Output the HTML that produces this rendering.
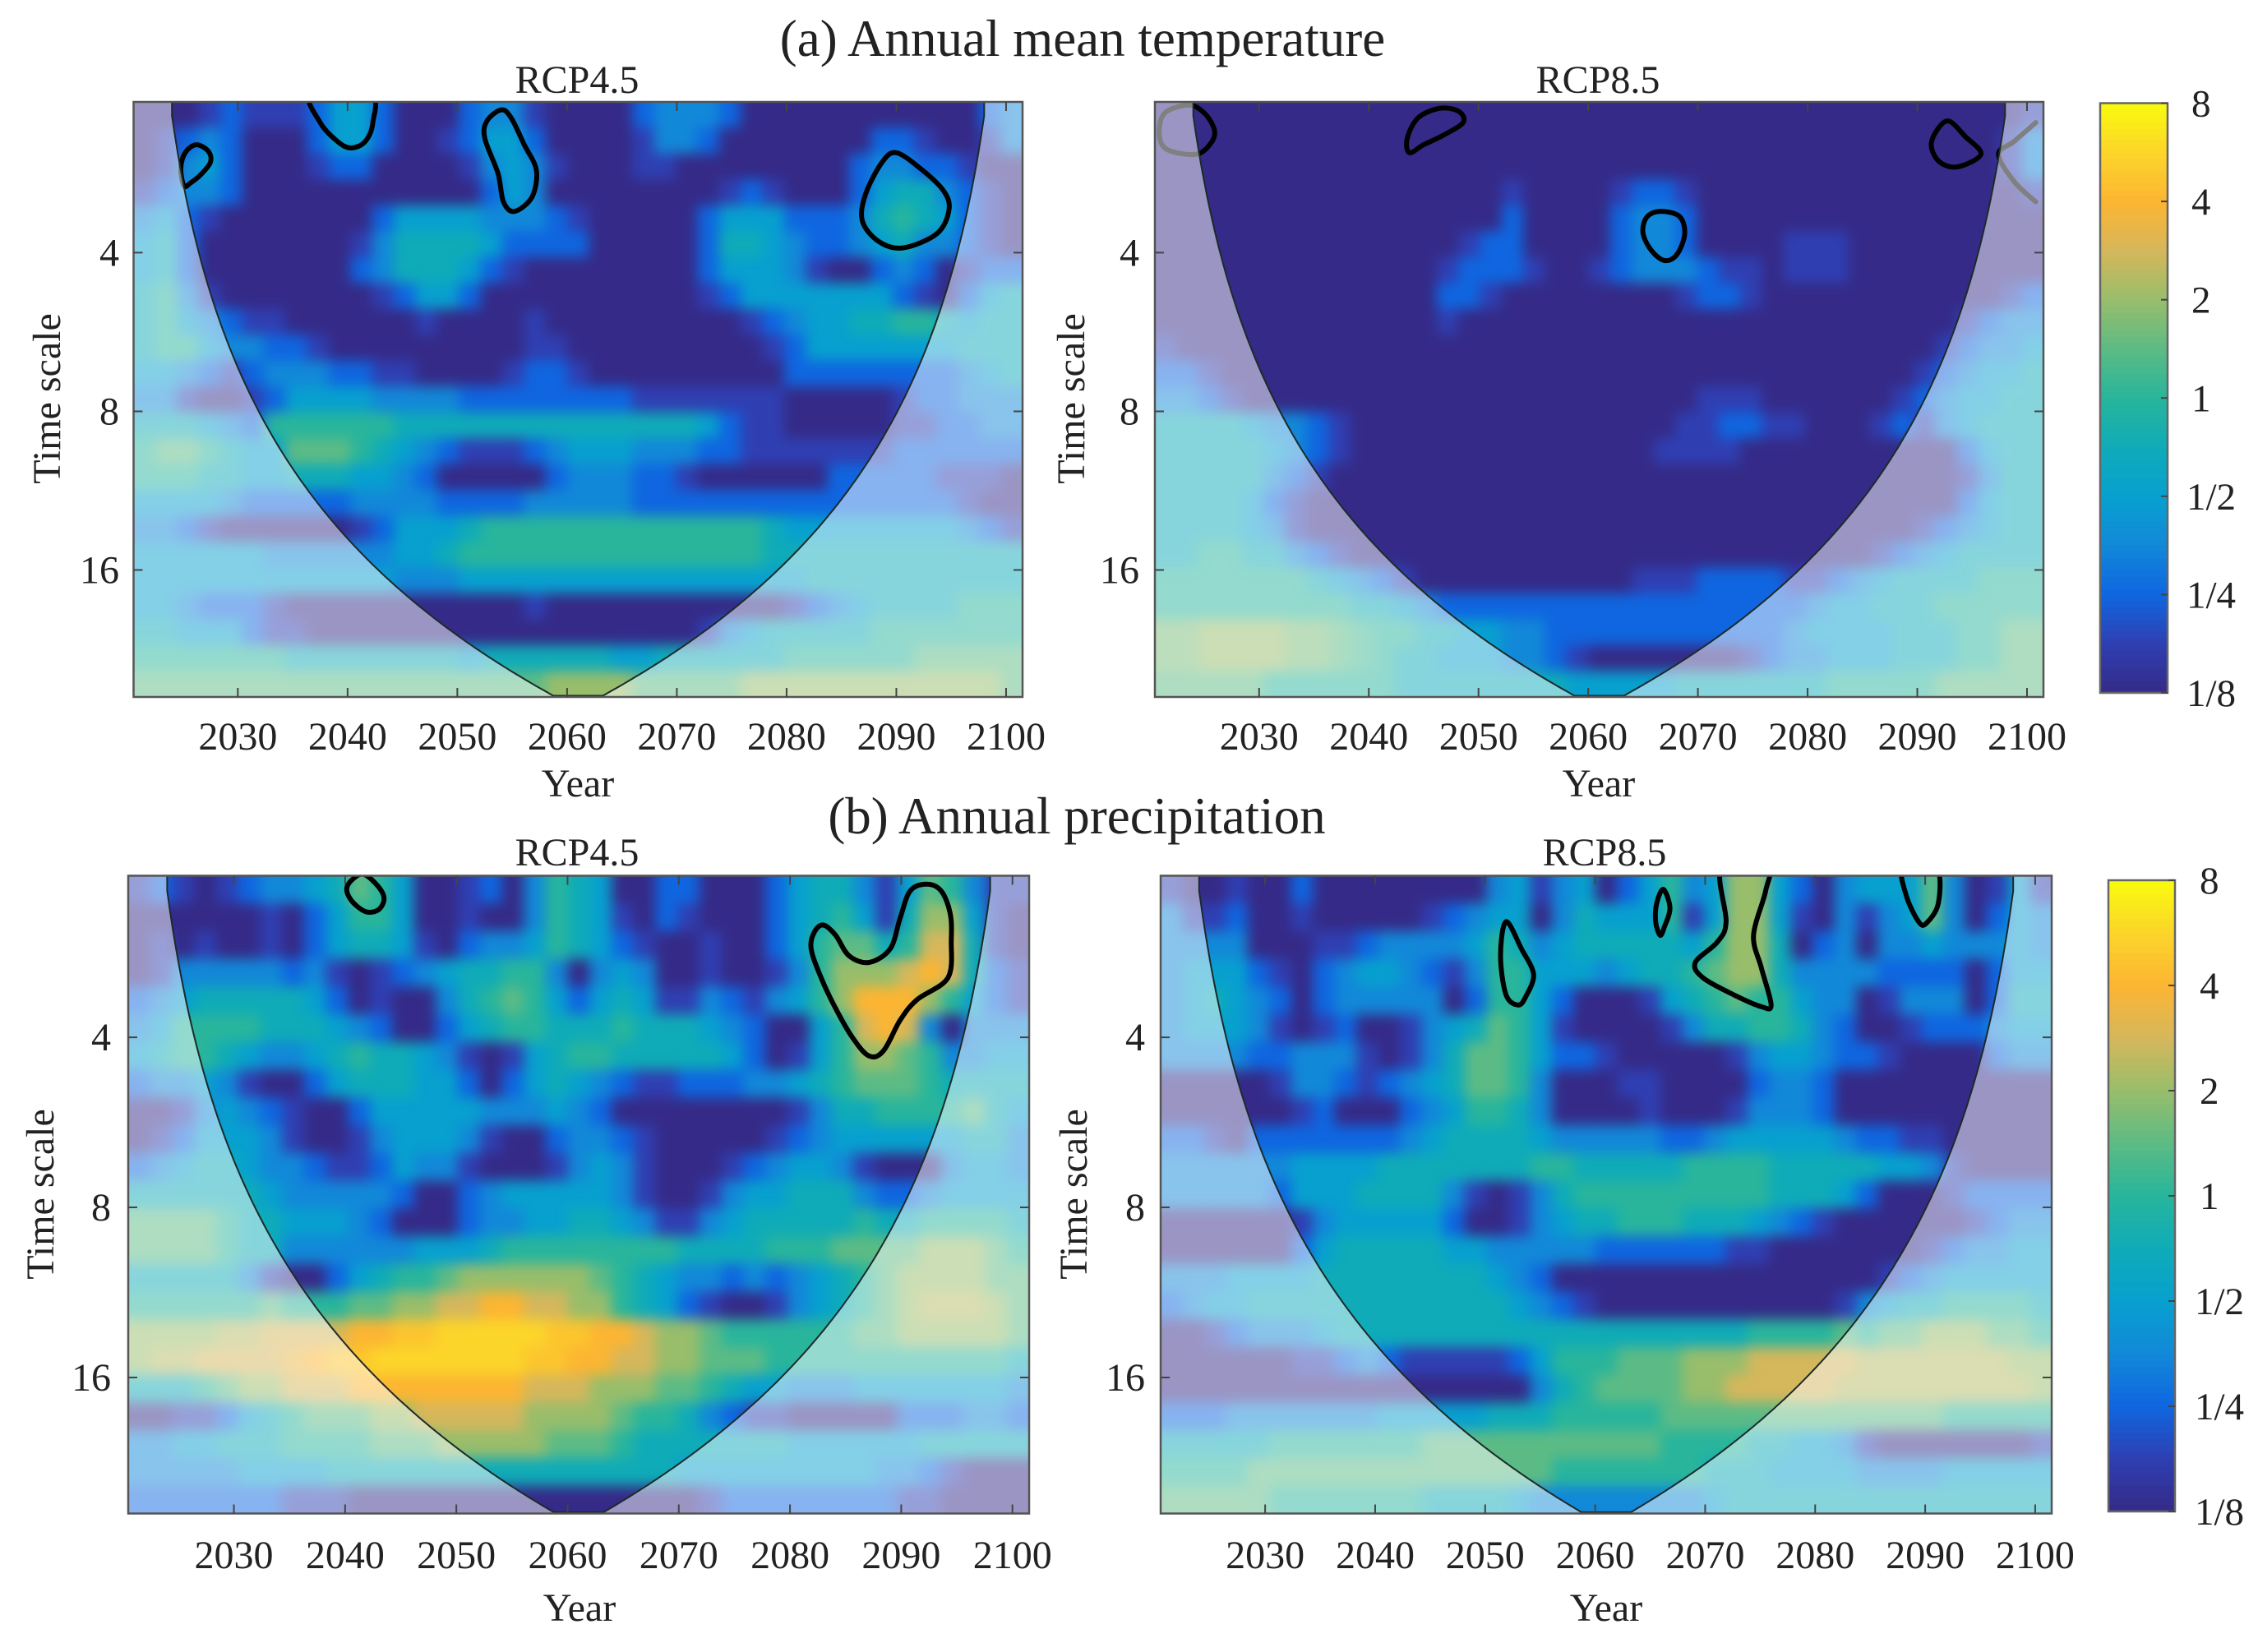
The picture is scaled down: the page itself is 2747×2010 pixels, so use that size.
<!DOCTYPE html>
<html lang="en">
<head>
<meta charset="utf-8">
<title>Wavelet power: annual mean temperature and annual precipitation</title>
<style>
html,body{margin:0;padding:0;background:#fff;}
svg{display:block;}
text{font-family:"Liberation Serif",serif;fill:#222;}
</style>
</head>
<body>
<svg id="chart" xmlns="http://www.w3.org/2000/svg" width="2747" height="2010" viewBox="0 0 2747 2010">
<defs>
<filter id="soften" x="-5%" y="-5%" width="110%" height="110%" color-interpolation-filters="sRGB"><feGaussianBlur stdDeviation="8"/></filter>
</defs>
<rect x="0" y="0" width="2747" height="2010" fill="#fff"/>
<text x="1317" y="68" font-size="63" text-anchor="middle">(a) Annual mean temperature</text>
<text x="1310" y="1014" font-size="63" text-anchor="middle">(b) Annual precipitation</text>
</svg>
<script>
// Wavelet power on half-octave levels: 0 = 1/8, 2 = 1/4, 4 = 1/2, 6 = 1, 8 = 2, 10 = 4, 12 = 8.
// Rows run from short to long time scale, columns from 2021 to 2101 in 41 bins.
const tempRcp45Levels = [
[0,0,0,1,2,1,1,1,2,4,4,2,0,0,0,2,3,3,1,0,0,0,0,2,3,3,3,2,0,0,0,0,0,0,0,0,0,0,0,2,3],
[0,1,2,3,2,0,0,0,2,4,4,2,0,0,1,2,4,4,2,0,0,0,0,1,3,3,2,0,0,0,0,0,0,0,2,2,1,0,0,1,3],
[0,1,3,4,2,0,0,0,1,2,2,0,0,0,0,1,3,4,3,1,0,0,0,1,1,0,0,0,0,0,0,0,0,2,3,3,2,2,1,0,0],
[1,2,3,3,2,0,0,0,0,0,0,0,0,0,0,0,2,4,3,0,0,0,0,0,0,0,0,1,2,1,0,0,0,2,4,5,5,3,2,1,0],
[3,4,2,1,0,0,0,0,0,0,0,2,4,4,4,4,3,3,3,2,1,0,0,0,0,0,2,4,4,4,2,2,2,3,5,6,5,4,2,1,0],
[4,5,2,0,0,0,0,0,0,0,1,3,5,5,5,5,4,2,2,2,2,0,0,0,0,0,2,5,5,4,3,2,2,3,4,5,3,3,2,1,0],
[4,5,2,0,0,0,0,0,0,0,2,3,5,5,5,4,2,1,0,0,0,0,0,0,0,0,2,4,4,4,3,1,0,0,2,3,2,0,1,2,2],
[5,6,3,1,0,0,0,0,0,0,0,1,2,4,4,2,0,0,0,0,0,0,0,0,0,0,1,2,4,4,4,4,4,4,4,2,1,0,2,4,5],
[5,6,4,3,2,1,1,0,0,0,0,0,0,1,0,0,0,0,1,0,0,0,0,0,0,0,0,0,1,2,3,4,4,5,5,6,6,5,4,5,5],
[5,6,6,4,3,3,2,2,1,0,0,0,0,0,0,0,0,0,1,1,0,0,0,0,0,0,0,0,0,1,2,4,4,4,4,4,4,4,5,5,5],
[4,4,3,2,1,2,3,3,3,2,2,1,1,0,0,0,0,1,2,2,1,0,0,0,0,0,0,0,0,0,2,2,2,2,2,2,2,2,3,4,5],
[3,3,1,0,0,1,2,4,4,4,4,3,3,3,3,2,2,2,2,2,2,2,2,1,1,1,1,1,1,1,0,0,0,0,0,1,2,2,3,3,3],
[5,5,5,4,3,2,6,6,6,6,6,6,5,5,5,5,5,5,5,5,5,5,5,5,5,5,4,2,1,1,0,0,0,0,0,1,1,2,2,3,3],
[6,7,7,6,5,4,4,7,7,7,6,5,4,3,2,1,1,1,2,3,4,4,4,3,3,3,2,2,1,1,1,1,1,1,1,2,2,2,2,2,2],
[6,6,6,5,5,4,4,5,5,5,4,4,3,2,0,0,0,0,0,2,3,3,3,2,2,1,0,0,0,0,0,0,2,2,2,2,2,1,1,1,0],
[4,4,4,4,3,2,2,2,2,2,3,3,3,3,2,2,2,2,3,3,3,3,3,2,2,2,2,2,2,2,2,2,2,2,2,2,2,2,1,0,0],
[3,3,2,1,0,0,0,0,0,0,1,2,4,4,4,5,6,6,6,6,6,6,6,6,6,6,6,6,6,5,4,4,4,4,4,4,4,4,3,2,1],
[4,4,4,4,4,4,3,3,3,3,3,3,4,4,5,6,6,6,6,6,6,6,6,6,6,6,6,6,6,5,5,5,5,5,5,5,5,5,5,5,5],
[4,4,4,4,4,4,4,4,4,4,4,4,3,3,3,4,4,4,4,4,4,4,4,4,4,4,4,4,4,4,4,5,5,5,5,5,5,5,5,5,5],
[4,4,3,2,2,2,1,0,0,0,0,0,0,0,0,0,0,0,1,0,0,0,0,0,0,0,0,0,0,0,1,2,3,4,5,5,5,5,6,6,6],
[5,5,4,4,4,2,1,1,0,0,0,0,0,0,0,0,0,0,0,0,0,0,0,0,0,0,1,3,4,5,5,5,5,5,6,6,6,6,6,6,6],
[6,6,6,6,6,6,6,5,5,5,5,5,5,5,5,4,5,5,5,5,5,5,4,4,5,5,5,5,5,5,6,6,6,6,6,6,7,7,7,7,7],
[7,7,7,7,7,7,7,7,7,7,7,7,7,7,7,7,7,7,7,8,8,8,8,7,7,7,7,7,8,8,8,8,8,8,8,8,8,8,8,8,7]
];
const tempRcp85Levels = [
[0,0,0,0,0,0,0,0,0,0,0,0,0,0,0,0,0,0,0,0,0,0,0,0,0,0,0,0,0,0,0,0,0,0,0,0,0,0,0,0,1],
[0,0,0,0,0,0,0,0,0,0,0,0,0,0,0,0,0,0,0,0,0,0,0,0,0,0,0,0,0,0,0,0,0,0,0,0,0,0,0,1,3],
[0,0,0,0,0,0,0,0,0,0,0,0,0,0,0,0,0,0,0,0,0,0,0,0,0,0,0,0,0,0,0,0,0,0,0,0,0,0,0,1,3],
[0,0,0,0,0,0,0,0,0,0,0,0,0,0,0,0,1,0,0,0,0,1,2,2,1,0,0,0,0,0,0,0,0,0,0,0,0,0,0,0,1],
[0,0,0,0,0,0,0,0,0,0,0,0,0,0,0,0,2,0,0,0,0,2,3,3,2,0,0,0,0,0,0,0,0,0,0,0,0,0,0,0,0],
[0,0,0,0,0,0,0,0,0,0,0,0,0,0,1,2,2,0,0,0,0,2,3,3,2,0,0,0,0,1,1,1,0,0,0,0,0,0,0,0,0],
[0,0,0,0,0,0,0,0,0,0,0,0,0,1,2,2,2,1,0,0,1,2,3,3,3,2,1,1,0,1,1,1,0,0,0,0,0,0,0,0,0],
[0,0,0,0,0,0,0,0,0,0,0,0,0,2,2,1,0,0,0,0,0,0,0,0,1,2,2,1,0,0,0,0,0,0,0,0,0,0,0,1,2],
[0,0,0,0,0,0,0,0,0,0,0,0,0,1,0,0,0,0,0,0,0,0,0,0,0,0,0,0,0,0,0,0,0,0,0,0,0,1,2,3,3],
[1,0,0,0,0,0,0,0,0,0,0,0,0,0,0,0,0,0,0,0,0,0,0,0,0,0,0,0,0,0,0,0,0,0,0,0,1,2,3,3,4],
[2,2,1,0,0,0,0,0,0,0,0,0,0,0,0,0,0,0,0,0,0,0,0,0,0,0,0,0,0,0,0,0,0,0,0,1,2,3,4,4,5],
[3,3,2,1,0,0,0,0,0,0,0,0,0,0,0,0,0,0,0,0,0,0,0,0,0,1,1,1,0,0,0,0,0,0,1,2,3,4,4,5,5],
[5,5,5,5,4,3,3,2,1,0,0,0,0,0,0,0,0,0,0,0,0,0,0,0,1,1,2,2,1,1,0,0,0,1,2,1,3,4,5,5,5],
[5,5,5,5,5,4,3,2,1,0,0,0,0,0,0,0,0,0,0,0,0,0,0,1,1,1,1,0,0,0,0,0,0,0,0,0,0,2,4,5,5],
[5,5,5,5,5,3,2,1,0,0,0,0,0,0,0,0,0,0,0,0,0,0,0,0,0,0,0,0,0,0,0,0,0,0,0,0,0,1,3,5,5],
[5,5,5,5,4,2,1,0,0,0,0,0,0,0,0,0,0,0,0,0,0,0,0,0,0,0,0,0,0,0,0,0,0,0,0,0,0,2,4,5,5],
[5,5,5,5,4,3,1,0,0,0,0,0,0,0,0,0,0,0,0,0,0,0,0,0,0,0,0,0,0,0,0,0,0,0,0,1,2,3,4,5,5],
[5,5,6,6,5,5,3,2,1,0,0,0,0,0,0,0,0,0,0,0,0,0,0,0,0,0,0,0,0,0,0,0,0,1,2,3,4,5,5,5,5],
[6,6,6,6,6,6,6,5,4,3,2,1,0,0,0,0,0,0,0,0,0,0,1,1,1,2,2,2,2,1,1,2,3,4,5,5,5,5,6,6,6],
[6,6,6,6,6,6,6,6,6,5,5,4,3,2,2,2,2,2,2,2,2,2,2,2,2,2,2,2,2,2,3,4,4,5,5,5,6,6,6,6,6],
[7.5,7.5,8,8,8,8,7.5,7.5,7,6.5,6,6,5,5,4,4,3,3,2,2,2,2,2,2,2,2,2,2,2,3,4,4,4,4,5,5,5,6,6,7,7],
[7.5,7.5,8,8,8,8,7.5,7.5,7,6.5,6,5,5,4,4,4,3,3,2,1,0,0,0,0,0,0,0,1,2,3,3,4,4,4,5,5,5,6,6,7,7],
[7,7,7,7,7,6,6,6,6,6,6,5,5,5,5,5,5,5,5,4,4,4,4,4,5,5,5,5,5,5,5,6,6,6,6,6,7,7,7,7,7]
];
const precipRcp45Levels = [
[1,2,1,0,1,2,3,3,4,5,7,6,4,0,0,1,2,0,3,6,5,4,0,0,2,2,0,0,0,2,4,5,5,3,1,4,7,6,3,1,1],
[0,0,0,0,0,0,1,0,2,4,6,6,4,0,0,1,0,0,3,6,5,4,1,0,2,1,0,0,0,2,4,5,6,4,1,5,8,8,4,1,0],
[0,1,0,1,0,0,1,0,2,4,5,5,4,1,0,2,3,3,4,6,5,4,2,1,0,0,1,0,0,2,4,6,7,7,5,6,9,9,5,1,0],
[0,1,3,3,3,3,3,2,3,1,0,1,2,3,4,5,5,6,6,3,0,3,4,3,0,0,1,0,0,1,3,6,8,8,8,9,10,9,5,2,1],
[2,3,4,5,5,5,5,5,4,2,0,1,0,0,3,5,6,7,6,4,2,4,5,4,1,1,3,2,1,3,4,6,8,10,10,10,8,6,4,2,1],
[3,4,6,6,6,6,5,5,5,4,3,2,0,0,2,4,5,6,6,5,5,5,6,5,5,5,4,3,2,0,0,4,6,9,10,9,3,0,3,3,3],
[4,5,6,6,5,4,3,3,4,5,6,5,5,4,3,1,0,1,4,5,6,6,5,5,5,5,5,4,2,0,1,4,6,8,8,7,6,3,3,4,4],
[2,3,3,4,3,1,0,0,2,4,5,5,5,4,4,2,0,2,4,5,4,3,2,1,1,2,2,2,3,3,4,5,6,7,7,7,6,5,5,5,5],
[0,0,1,3,4,3,2,1,0,0,2,4,4,4,4,4,3,3,3,4,3,2,0,0,0,0,0,0,0,0,1,3,5,5,6,6,6,6,7,5,4],
[0,1,2,4,4,4,3,1,0,0,1,3,4,4,4,3,1,0,0,2,3,3,2,1,0,0,0,0,0,1,2,3,4,4,4,4,4,4,5,5,3],
[2,3,4,5,5,4,3,3,2,1,1,2,4,3,3,1,0,0,0,1,3,4,3,1,0,0,0,1,2,3,4,4,3,1,0,0,0,3,4,4,3],
[5,5,5,5,5,5,4,3,3,3,3,3,2,0,0,2,3,4,4,4,4,4,3,1,0,0,1,3,4,4,5,5,5,3,2,2,3,4,4,4,4],
[7,7,7,7,6,5,5,4,4,4,3,2,0,0,0,2,3,3,4,4,5,5,4,3,1,1,3,4,5,5,5,5,5,6,5,5,6,6,6,6,5],
[7,7,7,7,6,5,5,3,3,3,3,3,3,4,4,4,5,6,6,6,6,6,6,6,6,5,5,5,5,6,6,6,7,7,7,7,8,8,8,7,6],
[5,5,5,5,5,3,1,0,0,2,4,5,6,6,7,8,8,8,8,8,8,7,6,5,4,3,3,2,3,2,3,4,5,6,7,8,8,8,8,7,7],
[6,6,6,6,6,6,7,6,6,6,7,7,8,8,9,9,10,10,9,9,8,8,6,5,4,2,1,0,0,1,3,4,5,6,7,8,8.5,8.5,8.5,8,7],
[8,8,8,8,8.5,8.5,9,9,9,9,10,10,10.5,10.5,11,11,11,11,11,10.5,10.5,10,10,9,8,8,7,6,6,6,6,6,6,7,7,8,8,8,8,8,7],
[8,8.5,8.5,9,9,9,9,9.5,10,10.5,10.5,11,11,11,11,11,11,11,10.5,10.5,10,10,9,9,8,8,7,7,7,6,6,6,6,6,6,6,6,6,6,6,5],
[5,5,5,6,7,8,8,9,9,9,10,10,10,10,10,10,10,10,9,9,9,8,8,8,7,7,6,5,4,4,3,3,3,4,4,4,4,4,4,4,3],
[0,0,1,1,2,4,5,6,7,7,7,8,8,9,9,9,9,9,8,8,8,8,7,6,6,5,3,2,1,1,0,0,0,0,0,2,2,2,3,3,2],
[3,3,4,4,5,5,5,6,6,6,6,7,7,7,8,8,8,8,8,7,7,7,6,5,5,5,5,5,5,5,4,4,4,4,4,4,5,5,5,5,5],
[3,3,3,3,3,4,4,4,4,5,5,5,5,5,5,5,5,5,5,5,5,5,5,5,5,4,4,4,4,4,4,4,4,4,3,3,2,1,0,0,0],
[2,2,2,2,2,2,2,1,1,1,0,0,0,0,0,0,0,0,0,0,0,0,0,0,0,0,1,2,2,2,2,2,2,2,2,1,1,0,0,0,0]
];
const precipRcp85Levels = [
[1,0,0,1,0,0,2,0,0,0,0,0,0,0,0,3,4,1,3,4,0,2,4,6,3,4,8,8,4,2,0,3,4,4,4,7,3,0,1,4,1],
[3,1,1,2,0,0,1,0,0,0,0,0,1,2,3,4,4,0,3,5,4,4,4,6,1,4,8,8,4,1,0,3,1,3,4,7,3,0,2,4,3],
[3,3,3,3,0,0,0,1,1,2,3,3,3,3,4,6,5,3,4,5,5,5,5,5,4,6,8,8,5,0,2,3,0,3,3,4,3,3,3,4,3],
[3,4,4,4,2,1,0,2,3,4,4,3,2,1,3,6,6,4,4,4,3,4,5,5,6,7,8,8,5,3,3,3,3,2,2,2,2,0,2,4,4],
[3,4,5,4,3,2,0,2,3,3,3,3,3,0,2,6,6,4,2,0,0,0,1,4,5,6,7,6,6,4,3,3,0,1,3,3,3,0,2,5,5],
[3,4,4,4,3,1,0,1,2,0,0,1,3,4,5,7,6,4,1,0,0,0,0,1,3,5,5,6,6,5,3,2,0,0,1,2,2,2,3,4,4],
[3,3,3,3,2,2,3,3,3,1,0,1,3,5,7,7,6,4,2,2,1,0,0,0,0,0,1,3,4,4,3,2,2,1,0,0,0,0,2,3,3],
[0,0,0,0,0,1,3,3,2,1,2,3,4,5,7,7,6,3,0,0,0,1,1,0,0,0,0,2,3,3,2,0,0,0,0,0,0,0,0,0,0],
[0,0,0,0,0,0,1,2,0,0,0,2,3,4,6,6,5,3,0,0,0,0,1,0,0,0,1,3,3,3,2,0,0,0,0,0,0,0,0,0,0],
[2,2,1,0,2,2,2,2,2,2,2,3,4,5,5,5,5,4,3,3,3,3,3,2,2,3,4,4,4,4,4,3,2,2,1,1,0,0,0,0,0],
[3,3,3,3,3,3,4,4,4,4,5,5,5,5,5,5,5,6,6,5,5,5,5,5,6,6,6,6,5,5,5,5,5,4,4,3,1,0,0,0,0],
[3,3,3,3,3,2,4,4,4,5,5,5,5,3,1,0,1,3,5,6,6,6,6,6,6,6,6,6,5,5,5,4,2,0,0,0,1,2,2,2,2],
[0,0,0,0,0,0,1,3,4,4,4,4,4,2,0,0,1,3,4,5,5,6,6,6,5,5,5,4,3,2,1,0,0,0,0,0,0,1,2,3,3],
[0,0,0,0,0,0,2,4,5,5,5,5,5,4,4,3,3,3,3,3,2,2,2,2,2,2,1,1,0,0,0,0,0,0,0,1,2,3,3,4,4],
[3,3,3,4,4,4,4,5,5,5,5,5,5,5,5,4,3,2,0,0,0,0,0,0,0,0,0,0,0,0,0,0,0,1,2,3,4,4,4,4,4],
[2,3,4,4,5,5,5,5,5,5,5,5,5,5,5,5,4,3,2,1,0,0,0,0,0,0,0,0,0,0,0,1,3,4,5,5,6,6,6,6,5],
[0,0,1,2,3,3,3,4,5,5,5,5,5,5,5,5,5,5,5,5,5,5,5,5,5,5,5,6,6,6,6,7,6,7,7,8,8,8,7,7,6],
[0,0,0,0,0,0,1,1,2,3,2,1,1,1,1,1,2,4,6,6,6,7,7,7,8,8,8,9,9,9,9,9,8.5,8.5,8.5,8.5,8.5,8.5,8.5,8,8],
[0,0,0,0,0,0,0,0,0,0,0,0,0,0,0,0,0,3,5,6,7,7,7,7,8,8,9,9,9,9,9,8.5,8.5,8.5,8.5,8.5,8.5,8.5,8.5,8.5,8],
[2,2,2,3,3,3,3,3,3,3,4,4,4,4,4,5,5,5,6,6,6,6,6,7,7,7,7,7,7,7,7,7,7,7,7,7,6,6,6,6,6],
[5,5,5,5,5,6,6,6,6,6,6,6,7,7,7,7,7,7,7,7,7,7,7,6,6,6,6,5,5,4,4,3,1,0,0,0,0,0,0,0,1],
[6,6,6,6,7,7,7,7,7,7,7,7,7,7,7,7,7,7,6,6,6,6,6,6,6,5,5,5,4,4,4,4,3,3,3,3,4,4,4,4,4],
[7,7,7,7,7,6,6,6,6,6,6,6,5,5,5,5,4,3,3,3,3,3,3,3,3,4,5,5,5,5,5,5,5,5,5,5,5,5,5,5,5]
];

// Significance contours as [year, log2(time scale)] pairs; top-edge points sit just above the axis.
const tempRcp45Contours = [
[[2025.1,1.58],[2024.8,1.47],[2025.2,1.37],[2026.2,1.32],[2027.3,1.36],[2027.5,1.43],[2026.6,1.51],[2025.7,1.56]],
[[2036.7,1.0],[2037.5,1.18],[2039.1,1.30],[2040.3,1.34],[2041.6,1.30],[2042.3,1.18],[2042.05,1.0]],
[[2054.0,1.10],[2054.9,1.15],[2056.1,1.32],[2057.2,1.48],[2056.8,1.65],[2055.2,1.74],[2054.2,1.68],[2053.7,1.50],[2052.5,1.28],[2052.7,1.17]],
[[2090.0,1.37],[2092.2,1.47],[2094.3,1.61],[2094.8,1.73],[2093.7,1.88],[2090.6,1.97],[2088.4,1.93],[2086.9,1.80],[2087.2,1.63],[2088.7,1.43]]
];
const tempRcp85Contours = [
[[2023.6,1.07],[2021.4,1.12],[2020.9,1.25],[2021.6,1.35],[2024.3,1.38],[2025.7,1.30],[2025.9,1.22],[2025.0,1.12]],
[[2043.7,1.37],[2043.5,1.28],[2044.5,1.15],[2046.5,1.09],[2048.2,1.11],[2048.6,1.18],[2046.8,1.26],[2045.0,1.32]],
[[2092.7,1.17],[2094.4,1.27],[2095.8,1.38],[2093.6,1.46],[2091.9,1.42],[2091.3,1.30]],
[[2066.5,1.74],[2068.3,1.77],[2068.8,1.88],[2068.1,2.01],[2067.0,2.05],[2065.8,1.99],[2065.0,1.88],[2065.3,1.78]],
[[2100.8,1.18],[2098.8,1.30],[2097.4,1.38],[2098.8,1.55],[2100.8,1.68],[2098.8,1.55],[2097.4,1.38],[2098.8,1.30]]
];
const precipRcp45Contours = [
[[2041.5,1.04],[2042.8,1.10],[2043.5,1.18],[2043.0,1.25],[2041.8,1.26],[2040.5,1.19],[2040.2,1.11]],
[[2083.0,1.34],[2084.1,1.40],[2085.3,1.52],[2087.1,1.56],[2089.0,1.48],[2089.9,1.30],[2090.8,1.14],[2092.3,1.10],[2093.6,1.14],[2094.4,1.27],[2094.5,1.43],[2094.2,1.65],[2091.4,1.78],[2089.9,1.90],[2088.4,2.08],[2087.1,2.11],[2085.6,2.00],[2084.1,1.83],[2082.8,1.65],[2081.9,1.48],[2082.2,1.38]]
];
const precipRcp85Contours = [
[[2051.9,1.32],[2053.3,1.48],[2054.4,1.63],[2053.7,1.76],[2053.0,1.81],[2051.9,1.75],[2051.4,1.52]],
[[2066.2,1.13],[2066.8,1.24],[2066.3,1.35],[2065.9,1.40],[2065.5,1.32],[2065.6,1.21]],
[[2071.5,1.0],[2071.9,1.32],[2071.1,1.44],[2069.1,1.56],[2069.8,1.65],[2072.6,1.75],[2075.1,1.82],[2076.0,1.81],[2075.1,1.59],[2074.4,1.40],[2075.5,1.14],[2075.6,1.0]],
[[2088.0,1.0],[2088.3,1.17],[2089.4,1.32],[2090.1,1.33],[2091.2,1.21],[2091.0,1.0]]
];

const yearTicks = [2030,2040,2050,2060,2070,2080,2090,2100];
const scaleTicks = [4,8,16];
const colorbarLabels = ['1/8','1/4','1/2','1','2','4','8'];

const NS = 'http://www.w3.org/2000/svg';
const root = document.getElementById('chart');
const YEAR_MIN = 2020.5, YEAR_MAX = 2101.5, OCT_MIN = 1.05, OCT_MAX = 4.8;
const COLOR_STOPS = ['#352a87','#2f3fb2','#0f66e0','#1288d8','#07a0cf','#0fabb8','#28b59c','#5cbb85','#98bd6b','#d5b75c','#fcb532','#fcd52a','#f9fb0e'];

function make(parent, tag, attrs) {
  const el = document.createElementNS(NS, tag);
  for (const k in attrs) el.setAttribute(k, attrs[k]);
  parent.appendChild(el);
  return el;
}
function hexRgb(h) { return [1,3,5].map(i => parseInt(h.substr(i,2),16)); }
function levelColor(v) {
  const c = Math.max(0, Math.min(12, v));
  const i = Math.min(11, Math.floor(c));
  const f = c - i;
  const a = hexRgb(COLOR_STOPS[i]), b = hexRgb(COLOR_STOPS[i+1]);
  return 'rgb(' + a.map((p,k) => Math.round(p + (b[k]-p)*f)).join(',') + ')';
}
function coi(year) { return 0.734 * Math.min(year - 2021, 2101 - year); }
function smoothClosed(pts) {
  const n = pts.length;
  let d = 'M' + pts[0][0].toFixed(1) + ' ' + pts[0][1].toFixed(1);
  for (let i = 0; i < n; i++) {
    const p0 = pts[(i-1+n)%n], p1 = pts[i], p2 = pts[(i+1)%n], p3 = pts[(i+2)%n];
    d += 'C' + (p1[0]+(p2[0]-p0[0])/6).toFixed(1) + ' ' + (p1[1]+(p2[1]-p0[1])/6).toFixed(1) + ' ' +
         (p2[0]-(p3[0]-p1[0])/6).toFixed(1) + ' ' + (p2[1]-(p3[1]-p1[1])/6).toFixed(1) + ' ' +
         p2[0].toFixed(1) + ' ' + p2[1].toFixed(1);
  }
  return d + 'Z';
}

function drawPanel(id, cfg) {
  const xScale = y => cfg.x0 + (y - YEAR_MIN) / (YEAR_MAX - YEAR_MIN) * (cfg.x1 - cfg.x0);
  const yScale = o => cfg.y0 + (o - OCT_MIN) / (OCT_MAX - OCT_MIN) * (cfg.y1 - cfg.y0);
  const g = make(root, 'g', {});
  
  

  const clip = make(root.querySelector('defs'), 'clipPath', {id: id + '-clip'});
  make(clip, 'rect', {x: cfg.x0, y: cfg.y0, width: cfg.x1 - cfg.x0, height: cfg.y1 - cfg.y0});

  const clipped = make(g, 'g', {'clip-path': 'url(#' + id + '-clip)'});
  const heat = make(clipped, 'g', {filter: 'url(#soften)'});
  
  
  const rows = cfg.levels.length, cols = cfg.levels[0].length;
  const dy = (OCT_MAX - OCT_MIN) / rows, dx = (YEAR_MAX - YEAR_MIN) / cols;
  const pad = 40;
  cfg.levels.forEach((row, i) => {
    row.forEach((value, j) => {
      let left = xScale(YEAR_MIN + j * dx), right = xScale(YEAR_MIN + (j + 1) * dx);
      let top = yScale(OCT_MIN + i * dy), bottom = yScale(OCT_MIN + (i + 1) * dy);
      if (j === 0) left -= pad;
      if (j === cols - 1) right += pad;
      if (i === 0) top -= pad;
      if (i === rows - 1) bottom += pad;
      const cell = make(heat, 'rect', {x: left, y: top, width: right - left + 0.6, height: bottom - top + 0.6, fill: levelColor(value)});
      
      
    });
  });

  cfg.contours.forEach(points => {
    const pts = points.map(p => [xScale(p[0]), yScale(p[1])]);
    const line = make(clipped, 'path', {d: smoothClosed(pts), fill: 'none', stroke: '#000', 'stroke-width': 6, 'stroke-linejoin': 'round'});
    
    
  });

  // cone of influence
  const cone = [];
  for (let yr = 2021.5; yr <= 2100.5; yr += 0.25) {
    const o = Math.log2(coi(yr));
    if (o >= OCT_MIN && o <= OCT_MAX) cone.push([xScale(yr), yScale(o)]);
  }
  const first = [cone[0][0], cfg.y0], last = [cone[cone.length - 1][0], cfg.y0];
  const coneD = 'M' + first.join(' ') + cone.map(p => 'L' + p[0].toFixed(1) + ' ' + p[1].toFixed(1)).join('') + 'L' + last.join(' ');
  const rectD = 'M' + cfg.x0 + ' ' + cfg.y0 + 'H' + cfg.x1 + 'V' + cfg.y1 + 'H' + cfg.x0 + 'Z';
  const overlay = make(clipped, 'path', {d: rectD + coneD + 'Z', fill: '#fff', 'fill-opacity': 0.5, 'fill-rule': 'evenodd'});
  
  
  const coneLine = make(clipped, 'path', {d: coneD, fill: 'none', stroke: '#1c2a2a', 'stroke-width': 2});
  
  

  const frame = make(g, 'rect', {x: cfg.x0, y: cfg.y0, width: cfg.x1 - cfg.x0, height: cfg.y1 - cfg.y0, fill: 'none', stroke: '#555', 'stroke-width': 2.5});
  
  

  yearTicks.forEach(t => {
    const x = xScale(t);
    const tb = make(g, 'path', {d: 'M' + x + ' ' + cfg.y1 + 'v-11M' + x + ' ' + cfg.y0 + 'v11', stroke: '#444', 'stroke-width': 2, fill: 'none'});
    
    
    const lab = make(g, 'text', {x: x, y: cfg.tickBase, 'font-size': 48, 'text-anchor': 'middle'});
    lab.textContent = t;
    
    
  });
  scaleTicks.forEach(t => {
    const y = yScale(Math.log2(t));
    const tb = make(g, 'path', {d: 'M' + cfg.x0 + ' ' + y + 'h11M' + cfg.x1 + ' ' + y + 'h-11', stroke: '#444', 'stroke-width': 2, fill: 'none'});
    
    
    const lab = make(g, 'text', {x: cfg.yLabelEnd, y: y + 16, 'font-size': 48, 'text-anchor': 'end'});
    lab.textContent = t;
    
    
  });

  const title = make(g, 'text', {x: cfg.titleX, y: cfg.titleY, 'font-size': 48, 'text-anchor': 'middle'});
  title.textContent = cfg.title;
  
  
  const xt = make(g, 'text', {x: cfg.xTitleX, y: cfg.xTitleY, 'font-size': 48, 'text-anchor': 'middle'});
  xt.textContent = 'Year';
  
  
  const yt = make(g, 'text', {'font-size': 48, 'text-anchor': 'middle', transform: 'translate(' + cfg.yTitleX + ',' + cfg.yTitleY + ') rotate(-90)'});
  yt.textContent = 'Time scale';
  
  
}

function drawColorbar(id, cfg) {
  const g = make(root, 'g', {});
  
  
  const steps = 96, h = (cfg.y1 - cfg.y0) / steps;
  for (let i = 0; i < steps; i++) {
    const band = make(g, 'rect', {x: cfg.x0, y: cfg.y1 - (i + 1) * h, width: cfg.x1 - cfg.x0, height: h + 0.6, fill: levelColor((i + 0.5) / steps * 12)});
    
    
  }
  const frame = make(g, 'rect', {x: cfg.x0, y: cfg.y0, width: cfg.x1 - cfg.x0, height: cfg.y1 - cfg.y0, fill: 'none', stroke: '#666', 'stroke-width': 2.5});
  
  
  colorbarLabels.forEach((label, i) => {
    const y = cfg.y1 - i * (cfg.y1 - cfg.y0) / (colorbarLabels.length - 1);
    const tick = make(g, 'line', {x1: cfg.x1 - 8, x2: cfg.x1, y1: y, y2: y, stroke: '#444', 'stroke-width': 2});
    
    
    const t = make(g, 'text', {x: label.length > 1 ? cfg.labelX : cfg.labelX + 6, y: y + 16, 'font-size': 47});
    t.textContent = label;
    
    
  });
}

drawPanel('temp-rcp45', {levels: tempRcp45Levels, contours: tempRcp45Contours, title: 'RCP4.5',
  x0: 162.5, x1: 1244, y0: 124, y1: 848, tickBase: 912, yLabelEnd: 145,
  titleX: 702, titleY: 113, xTitleX: 703, xTitleY: 969, yTitleX: 73, yTitleY: 485});
drawPanel('temp-rcp85', {levels: tempRcp85Levels, contours: tempRcp85Contours, title: 'RCP8.5',
  x0: 1405, x1: 2486, y0: 124, y1: 848, tickBase: 912, yLabelEnd: 1386,
  titleX: 1944, titleY: 113, xTitleX: 1945, xTitleY: 969, yTitleX: 1319, yTitleY: 485});
drawPanel('precip-rcp45', {levels: precipRcp45Levels, contours: precipRcp45Contours, title: 'RCP4.5',
  x0: 156, x1: 1252, y0: 1065.5, y1: 1841.5, tickBase: 1908, yLabelEnd: 135,
  titleX: 702, titleY: 1053, xTitleX: 705, xTitleY: 1972, yTitleX: 65, yTitleY: 1453});
drawPanel('precip-rcp85', {levels: precipRcp85Levels, contours: precipRcp85Contours, title: 'RCP8.5',
  x0: 1412, x1: 2496, y0: 1065.5, y1: 1841.5, tickBase: 1908, yLabelEnd: 1393,
  titleX: 1952, titleY: 1053, xTitleX: 1954, xTitleY: 1972, yTitleX: 1322, yTitleY: 1453});
drawColorbar('temperature-colorbar', {x0: 2555, x1: 2637, y0: 125.5, y1: 843, labelX: 2660});
drawColorbar('precipitation-colorbar', {x0: 2565, x1: 2646, y0: 1071, y1: 1839, labelX: 2670});
</script>
</body>
</html>
